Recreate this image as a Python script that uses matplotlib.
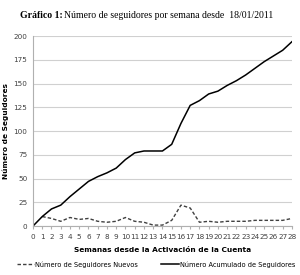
import numpy as np
import matplotlib.pyplot as plt

# weeks since account activation
semanas = list(range(29))
nuevos = [np.nan, 10, 8, 5, 9, 7, 8, 5, 4, 5, 9, 5, 4, 1, 1, 6, 22, 19,
          4, 5, 4, 5, 5, 5, 6, 6, 6, 6, 8]
acumulado = [0, 10, 18, 22, 31, 39, 47, 52, 56, 61, 70, 77, 79, 79, 79, 86,
             108, 127, 132, 139, 142, 148, 153, 159, 166, 173, 179, 185, 194]
yticks = [0, 25, 50, 75, 100, 125, 150, 175, 200]

fig = plt.figure(figsize=(3, 2.75), dpi=100)
ax = fig.add_axes([0.11, 0.178, 0.863, 0.691])

ax.plot(semanas, nuevos, color="#404040", lw=1.0, ls=(0, (2.5, 1.5)),
        label="Número de Seguidores Nuevos")
ax.plot(semanas, acumulado, color="black", lw=1.1,
        label="Número Acumulado de Seguidores")

ax.set_xlim(0, 28)
ax.set_ylim(0, 200)
ax.set_xticks(semanas)
ax.set_yticks(yticks)
ax.tick_params(labelsize=5.2, colors="#404040", length=0, pad=4)
ax.tick_params(axis="x", length=2, color="#b0b0b0", direction="out")
ax.grid(axis="y", color="#d0d0d0", lw=0.8)
ax.set_axisbelow(True)
for s in ["top", "right"]:
    ax.spines[s].set_visible(False)
ax.spines["left"].set_color("#b0b0b0")
ax.spines["bottom"].set_color("#b0b0b0")

ax.set_xlabel("Semanas desde la Activación de la Cuenta", fontsize=5.3,
              fontweight="bold", labelpad=5)
ax.set_ylabel("Número de Seguidores", fontsize=5.3, fontweight="bold",
              labelpad=3)

fig.text(0.067, 0.945, "Gráfico 1:", family="Liberation Serif",
         fontweight="bold", fontsize=7, va="center")
fig.text(0.215, 0.945, "Número de seguidores por semana desde  18/01/2011",
         family="Liberation Serif", fontsize=7, va="center")

fig.legend(loc="lower center", bbox_to_anchor=(0.52, 0.005), ncol=2,
           fontsize=4.8, frameon=False, handlelength=2.6, columnspacing=3.5,
           handletextpad=0.2)

fig.savefig("out.png", dpi=100)
